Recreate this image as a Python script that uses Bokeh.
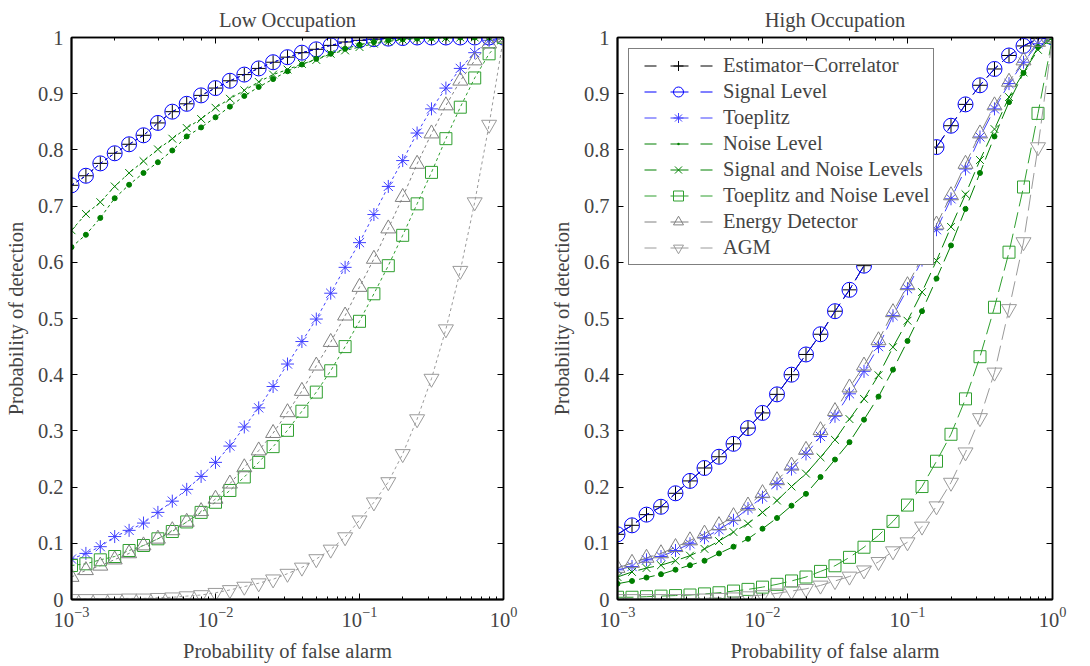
from bokeh.plotting import figure
from bokeh.layouts import row
from bokeh.models import (Range1d, FixedTicker, LinearAxis, LogAxis, Legend, LegendItem,
                          CustomJSTickFormatter)
from bokeh.embed import file_html
from bokeh.resources import INLINE

FONT = "Liberation Serif"
FS = "20.5px"

# ---------------- data ----------------
pfa = [0.001, 0.001259, 0.001585, 0.001995, 0.002512, 0.003162, 0.003981, 0.005012,
       0.00631, 0.007943, 0.01, 0.01259, 0.01585, 0.01995, 0.02512, 0.03162, 0.03981,
       0.05012, 0.0631, 0.07943, 0.1, 0.1259, 0.1585, 0.1995, 0.2512, 0.3162, 0.3981,
       0.5012, 0.631, 0.7943, 1.0]

series_names = ["Estimator\u2212Correlator", "Signal Level", "Toeplitz", "Noise Level",
                "Signal and Noise Levels", "Toeplitz and Noise Level", "Energy Detector", "AGM"]

panel_titles = ["Low Occupation", "High Occupation"]

# Low occupation
low_ec = [0.737, 0.754, 0.776, 0.794, 0.810, 0.826, 0.848, 0.868, 0.882, 0.897, 0.910,
          0.923, 0.934, 0.945, 0.956, 0.965, 0.973, 0.979, 0.986, 0.992, 0.995, 0.997,
          0.998, 0.999, 1.0, 1.0, 1.0, 1.0, 1.0, 1.0, 1.0]
low_sl = [0.737, 0.754, 0.776, 0.794, 0.810, 0.826, 0.848, 0.868, 0.882, 0.897, 0.910,
          0.923, 0.934, 0.945, 0.956, 0.965, 0.973, 0.979, 0.986, 0.992, 0.995, 0.997,
          0.998, 0.999, 1.0, 1.0, 1.0, 1.0, 1.0, 1.0, 1.0]
low_toep = [0.072, 0.082, 0.094, 0.112, 0.123, 0.136, 0.155, 0.175, 0.196, 0.219, 0.244,
            0.273, 0.307, 0.341, 0.379, 0.419, 0.459, 0.499, 0.545, 0.591, 0.635, 0.685,
            0.735, 0.781, 0.830, 0.873, 0.910, 0.945, 0.973, 0.995, 1.0]
low_nl = [0.627, 0.649, 0.679, 0.714, 0.738, 0.759, 0.778, 0.799, 0.824, 0.840, 0.858,
          0.877, 0.896, 0.912, 0.926, 0.940, 0.952, 0.962, 0.971, 0.980, 0.987, 0.992,
          0.995, 0.997, 0.998, 0.999, 1.0, 1.0, 1.0, 1.0, 1.0]
low_sn = [0.657, 0.686, 0.707, 0.735, 0.759, 0.780, 0.801, 0.820, 0.839, 0.855, 0.875,
          0.891, 0.906, 0.921, 0.934, 0.943, 0.953, 0.960, 0.971, 0.977, 0.983, 0.989,
          0.993, 0.996, 0.998, 0.999, 0.999, 1.0, 1.0, 1.0, 1.0]
low_tn = [0.0605, 0.0635, 0.0706, 0.0765, 0.0872, 0.0961, 0.108, 0.121, 0.138, 0.155,
          0.173, 0.194, 0.218, 0.244, 0.272, 0.301, 0.335, 0.369, 0.407, 0.450, 0.495,
          0.544, 0.594, 0.648, 0.704, 0.760, 0.820, 0.876, 0.928, 0.971, 1.0]
low_ed = [0.040, 0.052, 0.060, 0.071, 0.082, 0.096, 0.108, 0.123, 0.138, 0.157, 0.179,
          0.206, 0.235, 0.265, 0.296, 0.333, 0.371, 0.416, 0.458, 0.505, 0.556, 0.606,
          0.660, 0.716, 0.775, 0.829, 0.879, 0.923, 0.959, 0.989, 1.0]
low_agm = [0.001, 0.001, 0.001, 0.0015, 0.002, 0.002, 0.003, 0.004, 0.006, 0.008, 0.012,
           0.017, 0.023, 0.029, 0.036, 0.046, 0.057, 0.072, 0.089, 0.111, 0.141, 0.173,
           0.209, 0.259, 0.321, 0.393, 0.481, 0.585, 0.707, 0.845, 1.0]

# High occupation
high_ec = [0.116, 0.132, 0.151, 0.165, 0.189, 0.211, 0.234, 0.254, 0.277, 0.305, 0.332,
           0.365, 0.400, 0.436, 0.472, 0.513, 0.551, 0.594, 0.636, 0.678, 0.720, 0.763,
           0.805, 0.843, 0.881, 0.915, 0.944, 0.968, 0.985, 0.998, 1.0]
high_sl = [0.116, 0.132, 0.151, 0.165, 0.189, 0.211, 0.234, 0.254, 0.277, 0.305, 0.332,
           0.365, 0.400, 0.436, 0.472, 0.513, 0.551, 0.594, 0.636, 0.678, 0.720, 0.763,
           0.805, 0.843, 0.881, 0.915, 0.944, 0.968, 0.985, 0.998, 1.0]
high_toep = [0.0528, 0.0587, 0.0706, 0.0765, 0.0872, 0.0991, 0.110, 0.124, 0.141, 0.162,
             0.182, 0.206, 0.232, 0.259, 0.290, 0.326, 0.366, 0.406, 0.450, 0.505, 0.553,
             0.604, 0.658, 0.713, 0.766, 0.823, 0.873, 0.918, 0.956, 0.989, 1.0]
high_nl = [0.028, 0.033, 0.039, 0.045, 0.053, 0.061, 0.069, 0.082, 0.094, 0.108, 0.126,
           0.145, 0.167, 0.188, 0.218, 0.249, 0.280, 0.320, 0.361, 0.409, 0.460, 0.513,
           0.571, 0.630, 0.695, 0.759, 0.824, 0.885, 0.937, 0.983, 1.0]
high_sn = [0.040, 0.049, 0.056, 0.061, 0.069, 0.078, 0.090, 0.104, 0.120, 0.135, 0.155,
           0.176, 0.201, 0.224, 0.253, 0.284, 0.321, 0.357, 0.399, 0.449, 0.496, 0.547,
           0.603, 0.663, 0.721, 0.782, 0.837, 0.894, 0.938, 0.978, 1.0]
high_tn = [0.004, 0.004, 0.005, 0.006, 0.007, 0.008, 0.010, 0.012, 0.015, 0.018, 0.022,
           0.027, 0.033, 0.040, 0.050, 0.060, 0.075, 0.093, 0.114, 0.139, 0.168, 0.201,
           0.246, 0.294, 0.357, 0.432, 0.520, 0.618, 0.734, 0.865, 1.0]
high_ed = [0.056, 0.065, 0.074, 0.082, 0.093, 0.105, 0.117, 0.132, 0.148, 0.167, 0.189,
           0.212, 0.238, 0.266, 0.301, 0.335, 0.377, 0.416, 0.461, 0.511, 0.559, 0.609,
           0.667, 0.719, 0.775, 0.829, 0.879, 0.921, 0.959, 0.992, 1.0]
high_agm = [0.001, 0.001, 0.001, 0.001, 0.001, 0.001, 0.002, 0.003, 0.004, 0.006, 0.008,
            0.011, 0.015, 0.019, 0.025, 0.033, 0.041, 0.052, 0.067, 0.086, 0.102, 0.130,
            0.166, 0.208, 0.262, 0.323, 0.404, 0.517, 0.636, 0.805, 1.0]

low_series = [low_ec, low_sl, low_toep, low_nl, low_sn, low_tn, low_ed, low_agm]
high_series = [high_ec, high_sl, high_toep, high_nl, high_sn, high_tn, high_ed, high_agm]

y_ticks = [0.0, 0.1, 0.2, 0.3, 0.4, 0.5, 0.6, 0.7, 0.8, 0.9, 1.0]
y_tick_labels = ["0", "0.1", "0.2", "0.3", "0.4", "0.5", "0.6", "0.7", "0.8", "0.9", "1"]

# placeholder (off-chart) point used only to draw the legend swatches
legend_x = [float("nan")]
legend_y = [float("nan")]

# ---------------- styles ----------------
colors = ["#000000", "#0000ff", "#4040ff", "#007f00", "#008000", "#2f9f2f", "#808080", "#9a9a9a"]
markers = ["cross", "circle", "asterisk", "circle", "x", "square", "triangle", "inverted_triangle"]
legend_markers = ["cross", "circle", "asterisk", "dot", "x", "square", "triangle", "inverted_triangle"]
msizes = [14, 15, 13, 5, 11, 12, 15, 15]
mfilled = [False, False, False, True, False, False, False, False]


def make_panel(title, data, dash, left_b, right_b, with_legend):
    p = figure(width=545, height=666, x_axis_type="log",
               x_range=Range1d(1e-3, 1), y_range=Range1d(0, 1),
               output_backend="svg", toolbar_location=None,
               min_border_left=left_b, min_border_right=right_b,
               min_border_top=37, min_border_bottom=67,
               background_fill_color="white", border_fill_color="white")
    p.title.text = title
    p.title.align = "center"
    p.title.vertical_align = "top"
    p.title.text_font = FONT
    p.title.text_font_size = FS
    p.title.text_font_style = "normal"
    p.title.standoff = 10
    p.grid.visible = False
    p.outline_line_color = "black"
    p.outline_line_width = 1.5

    # bottom axis
    xa = p.xaxis[0]
    xa.axis_label = "Probability of false alarm"
    xa.axis_label_text_font = FONT
    xa.axis_label_text_font_size = FS
    xa.axis_label_text_font_style = "normal"
    xa.axis_label_standoff = 10
    xa.major_label_text_font = FONT
    xa.major_label_text_font_size = FS
    xa.major_label_standoff = 7
    xa.major_tick_in = 6
    xa.major_tick_out = 0
    xa.minor_tick_in = 3
    xa.minor_tick_out = 0
    xa.axis_line_color = "black"
    xa.axis_line_width = 2

    # left axis
    ya = p.yaxis[0]
    ya.ticker = FixedTicker(ticks=y_ticks)
    ya.major_label_overrides = {t: l for t, l in zip(y_ticks, y_tick_labels)}
    ya.axis_label = "Probability of detection"
    ya.axis_label_text_font = FONT
    ya.axis_label_text_font_size = FS
    ya.axis_label_text_font_style = "normal"
    ya.axis_label_standoff = 8
    ya.major_label_text_font = FONT
    ya.major_label_text_font_size = FS
    ya.major_label_standoff = 8
    ya.major_tick_in = 6
    ya.major_tick_out = 0
    ya.minor_tick_line_color = None
    ya.axis_line_color = "black"
    ya.axis_line_width = 2

    blank = CustomJSTickFormatter(code="return ''")
    top = LogAxis(formatter=blank, major_tick_in=6, major_tick_out=0,
                  minor_tick_in=3, minor_tick_out=0, major_label_standoff=0,
                  major_label_text_font_size="1px", axis_line_color="black",
                  axis_line_width=1.5)
    p.add_layout(top, "above")
    right = LinearAxis(ticker=FixedTicker(ticks=y_ticks), formatter=blank,
                       major_tick_in=6, major_tick_out=0, minor_tick_line_color=None,
                       major_label_standoff=0, major_label_text_font_size="1px",
                       axis_line_color="black", axis_line_width=1.5)
    p.add_layout(right, "right")

    for ys, c, m, s, f in zip(data, colors, markers, msizes, mfilled):
        p.line(pfa, ys, line_color=c, line_width=1, line_dash=dash)
        p.scatter(pfa, ys, marker=m, size=s, line_color=c, line_width=1,
                  fill_color=c if f else None)

    if with_legend:
        items = []
        for name, c, m, f in zip(series_names, colors, legend_markers, mfilled):
            lr = p.line(legend_x, legend_y, line_color=c, line_width=1,
                        line_dash="0 11 12 14 18 12 12 100")
            sr = p.scatter(legend_x, legend_y, marker=m, size=10, line_color=c,
                           line_width=1 if m != "dot" else 4,
                           fill_color=c if f else None)
            items.append(LegendItem(label=name, renderers=[lr, sr]))
        leg = Legend(items=items, location="top_left", margin=11, padding=4, spacing=1,
                     label_height=25, glyph_height=25, glyph_width=90, label_standoff=0,
                     label_text_font=FONT, label_text_font_size=FS,
                     border_line_color="black", border_line_width=1.5,
                     background_fill_color="white", background_fill_alpha=1.0)
        p.add_layout(leg, "center")
    return p


p1 = make_panel(panel_titles[0], low_series, "3 3", 71, 42, False)
p2 = make_panel(panel_titles[1], high_series, "16 6", 72, 38, True)

layout = row(p1, p2)
open("out.html", "w").write(file_html(layout, INLINE))
